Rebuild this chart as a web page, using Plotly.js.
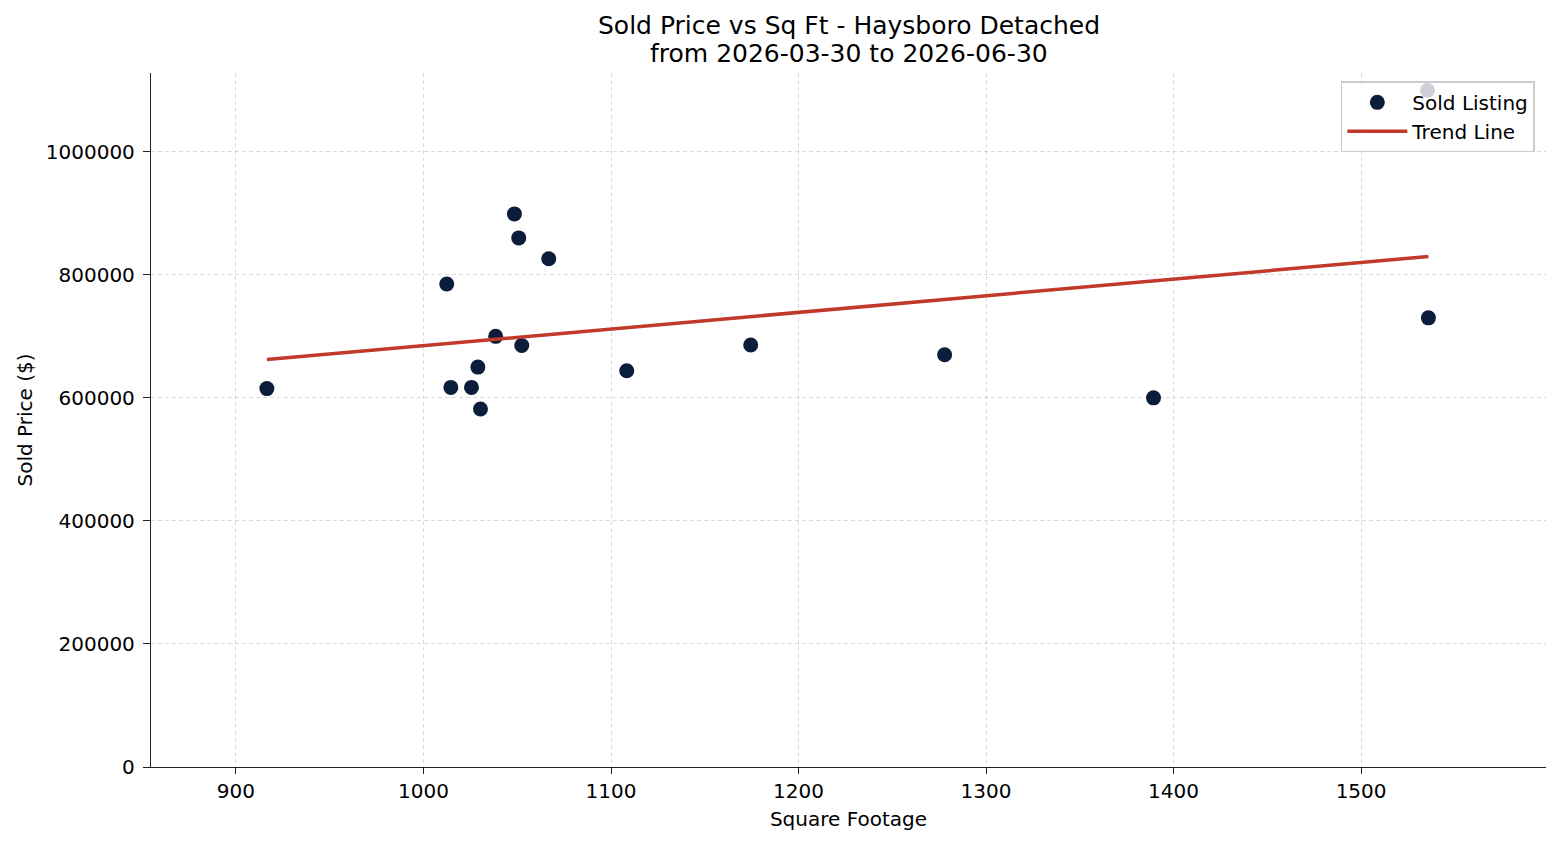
<!DOCTYPE html>
<html>
<head>
<meta charset="utf-8">
<script src="https://cdn.plot.ly/plotly-3.0.1.min.js"></script>
<style>
  html, body { margin: 0; padding: 0; background: #fff; }
  #chart { width: 1560px; height: 845px; }
</style>
</head>
<body>
<div id="chart"></div>
<script>
// Sold listings: square footage and sold price
const sqft = [916.5, 1012.4, 1014.6, 1025.6, 1029, 1030.4, 1038.5, 1048.5, 1050.8,
              1052.4, 1066.8, 1108.4, 1174.5, 1277.9, 1389.3, 1535.9, 1535.4];
const soldPrice = [615000, 785000, 617000, 617000, 650000, 582000, 700000, 899000, 860000,
                   685000, 826000, 644000, 686000, 670000, 600000, 730000, 1100000];

const titleLines = ['Sold Price vs Sq Ft - Haysboro Detached', 'from 2026-03-30 to 2026-06-30'];
const xLabel = 'Square Footage';
const yLabel = 'Sold Price ($)';

// Ordinary least-squares fit for the trend line
function linearFit(xs, ys) {
  const n = xs.length;
  const mx = xs.reduce((a, b) => a + b, 0) / n;
  const my = ys.reduce((a, b) => a + b, 0) / n;
  let sxy = 0, sxx = 0;
  for (let i = 0; i < n; i++) {
    sxy += (xs[i] - mx) * (ys[i] - my);
    sxx += (xs[i] - mx) * (xs[i] - mx);
  }
  const slope = sxy / sxx;
  return { slope, intercept: my - slope * mx };
}
const fit = linearFit(sqft, soldPrice);
const xMin = Math.min(...sqft), xMax = Math.max(...sqft);
const trendX = [xMin, xMax];
const trendY = trendX.map(x => fit.intercept + fit.slope * x);

const font = 'DejaVu Sans, sans-serif';
const labelSize = 20;

const traces = [
  {
    type: 'scatter', mode: 'markers', name: 'Sold Listing',
    x: sqft, y: soldPrice,
    marker: { color: '#0b1d3a', size: 15, line: { width: 0 } },
    hoverinfo: 'x+y'
  },
  {
    type: 'scatter', mode: 'lines', name: 'Trend Line',
    x: trendX, y: trendY,
    line: { color: '#c0392b', width: 3.5 },
    hoverinfo: 'skip'
  }
];

const gridColor = 'rgba(150,150,150,0.35)';

// Two-line heading centred over the plot area
const heading = titleLines.map((t, i) => ({
  text: t, showarrow: false,
  xref: 'paper', x: 0.5, xanchor: 'center',
  yref: 'paper', y: i === 0 ? 1.0678 : 1.0274, yanchor: 'middle',
  font: { family: font, size: 25, color: '#000' }
}));

const layout = {
  width: 1560, height: 845,
  paper_bgcolor: '#ffffff', plot_bgcolor: '#ffffff',
  margin: { l: 151, r: 14, t: 73, b: 78 },
  font: { family: font, size: labelSize, color: '#000' },
  annotations: heading,
  showlegend: true,
  legend: {
    x: 0.992, xanchor: 'right', y: 0.988, yanchor: 'top',
    bgcolor: 'rgba(255,255,255,0.8)', bordercolor: '#cccccc', borderwidth: 1.5,
    font: { family: font, size: labelSize, color: '#000' },
    itemwidth: 60
  },
  xaxis: {
    range: [854.7, 1598.6],
    tick0: 900, dtick: 100,
    showgrid: true, gridcolor: gridColor, gridwidth: 1, griddash: '4px,3px',
    zeroline: false,
    showline: true, linecolor: '#222', linewidth: 1.3,
    ticks: 'outside', ticklen: 6, tickwidth: 1.3, tickcolor: '#222',
    tickfont: { family: font, size: labelSize, color: '#000' },
    title: { text: xLabel, font: { family: font, size: labelSize, color: '#000' }, standoff: 9 }
  },
  yaxis: {
    range: [0, 1128000],
    tick0: 0, dtick: 200000, tickformat: 'd',
    showgrid: true, gridcolor: gridColor, gridwidth: 1, griddash: '4px,3px',
    zeroline: false,
    showline: true, linecolor: '#222', linewidth: 1.3,
    ticks: 'outside', ticklen: 7, tickwidth: 1.3, tickcolor: '#222',
    ticklabelstandoff: 4,
    tickfont: { family: font, size: labelSize, color: '#000' },
    title: { text: yLabel, font: { family: font, size: labelSize, color: '#000' }, standoff: 7 }
  }
};

Plotly.newPlot('chart', traces, layout, { displayModeBar: false, responsive: false });
</script>
</body>
</html>
